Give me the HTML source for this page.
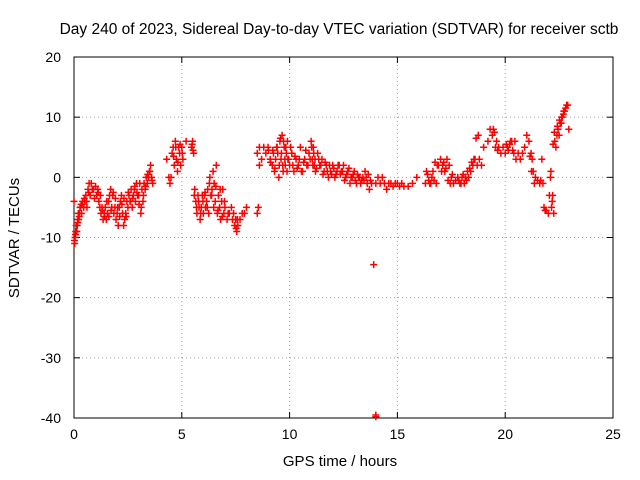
<!DOCTYPE html>
<html><head><meta charset="utf-8"><style>
body{margin:0;background:#fff}
svg{display:block}
text{font-family:"Liberation Sans",sans-serif;font-size:14px;fill:#000}
</style></head><body>
<svg id="chart" width="640" height="480" viewBox="0 0 640 480">
<text x="339" y="34" text-anchor="middle" style="font-size:15.5px">Day 240 of 2023, Sidereal Day-to-day VTEC variation (SDTVAR) for receiver sctb</text>
<g id="grid"></g>
<g id="axes"></g>
<g id="marks"></g>
<text x="340" y="466" text-anchor="middle" style="font-size:15px">GPS time / hours</text>
<text transform="translate(19,238) rotate(-90)" text-anchor="middle" style="font-size:15px">SDTVAR / TECUs</text>
</svg>
<script>
const xTicks=[0,5,10,15,20,25];
const yTicks=[20,10,0,-10,-20,-30,-40];
const times=[0,0.03,0.05,0.08,0.1,0.12,0.15,0.18,0.2,0.22,0.25,0.28,0.3,0.33,0.35,0.4,0.45,0.5,0.55,0.6,0.65,0.7,0.75,0.8,0.9,1.0,1.05,1.1,1.15,1.2,1.25,1.3,1.35,1.4,1.45,1.5,1.55,1.6,1.65,1.7,1.75,1.8,1.85,1.9,1.95,2.0,2.05,2.1,2.15,2.2,2.25,2.3,2.35,2.4,2.45,2.5,2.55,2.6,2.65,2.7,2.75,2.8,2.85,2.9,2.95,3.0,3.05,3.1,3.15,3.2,3.25,3.3,3.35,3.4,3.45,3.5,3.55,3.6,3.65,
4.3,4.4,4.45,4.5,4.55,4.6,4.65,4.7,4.75,4.8,4.85,4.9,4.95,5.0,5.05,5.2,5.45,5.5,5.55,5.6,5.65,5.7,5.75,5.8,5.85,5.9,5.95,6.0,6.05,6.1,6.15,6.2,6.25,6.3,6.35,6.4,6.45,6.5,6.55,6.6,6.65,6.7,6.75,6.8,6.85,6.9,6.95,7.0,7.1,7.2,7.3,7.4,7.45,7.5,7.55,7.6,7.7,7.8,7.9,8.0,8.5,8.55,8.6,
8.5,8.6,8.7,8.8,8.9,9.0,9.1,9.2,9.25,9.3,9.35,9.4,9.45,9.5,9.55,9.6,9.65,9.7,9.75,9.8,9.85,9.9,9.95,10.0,10.1,10.2,10.3,10.4,10.5,10.6,10.7,10.8,10.9,11.0,11.05,11.1,11.15,11.2,11.3,11.4,11.5,11.6,11.7,11.8,11.9,12.0,12.1,12.2,12.3,12.4,12.5,12.6,12.7,12.8,12.9,13.0,13.1,13.2,13.3,13.4,13.5,13.6,13.7,13.8,13.9,14.0,14.0,14.0,14.1,14.2,14.3,14.4,14.5,14.6,14.7,14.8,14.9,15.0,15.1,15.2,15.3,15.5,15.7,15.9,
16.3,16.4,16.5,16.6,16.7,16.8,16.9,17.0,17.1,17.2,17.3,17.4,17.5,17.6,17.7,17.8,17.9,18.0,18.1,18.2,18.3,18.4,18.5,18.6,18.7,18.8,18.9,19.0,19.2,19.3,19.4,19.5,19.6,19.7,19.8,19.9,20.0,20.1,20.2,20.3,20.4,20.5,20.6,20.7,20.8,20.9,21.0,21.1,21.2,21.25,21.3,21.4,21.5,21.6,21.7,21.75,21.8,21.9,22.0,22.05,22.1,22.15,22.2,22.25,22.3,22.35,22.4,22.45,22.5,22.55,22.6,22.65,22.7,22.75,22.8,22.85,22.9,22.95,22.9];
const values=[-4,-11,-10,-9,-8,-9,-8,-7,-6,-7,-6,-5,-5,-4.5,-6,-4,-5,-4,-3,-5,-2,-1,-3,-1,-2,-1.5,-3,-2,-4,-5,-6,-5,-7,-6,-5,-7,-6,-4,-3,-2,-5,-3,-6,-5,-7,-6,-8,-5,-4,-3,-6,-8,-7,-6,-4,-5,-3,-4,-2,-5,-3,-2,-4,-1,-3,-3,-1,-6,-2,-4,-1,-2,0,-1,0,1,2,0,-1,
3,0,-1,-0,4,5,2,6,3,1,5,4,2,5,3,6,5,6,4,-2,-4,-6,-3,-5,-7,-5,-3,-6,-3,-5,-4,-2,-6,0,-3,-2,1,-1,-4,2,-6,-3,-5,-7,-4,-2,-6,-5,-7,-6,-5,-6,-8,-7,-9,-8,-7,-6,-6,-5,-6,-5,
2,4,5,3,5,4,5,3,2,4,1,3,5,4,0,6,3,7,1,5,2,4,6,3,2,4,1,3,2,5,1,3,2,4,6,3,5,2,1,4,2,3,1,2,0,1,2,0,1,2,1,2,0,1,-1,0,1,-1,0,-1,0,1,-1,-2,-1,-14.5,-39.5,-39.8,-1,0,-1,0,-1,-2,-1,-1,-1.5,-1,-1,-1.5,-1,-1.5,-1.5,-1,
0,-1,0.5,-1,0,-0.5,-1,2,3,2,1,3,2,0,-1,-0.5,0,-1,0,-1,-0.5,0,1,2,3,2,3,2,5,6,8,7,7.5,6,5,4,5,4,5,5.5,6,4,3,4,3,4,5,7,6,4,3,1,0,-0.5,-1,3,-1,-5,-5.5,-6,-3,0,-5,-3,-6,6,5,7,8,7,9,9,10,10.5,11,11.5,12,12,8];
const times2=[0.02,0.07,0.13,0.17,0.24,0.38,0.48,0.58,0.68,0.85,0.95,1.12,1.22,1.32,1.42,1.52,1.62,1.72,1.82,1.92,2.02,2.12,2.22,2.32,2.42,2.52,2.62,2.72,2.82,2.92,3.02,3.12,3.22,3.32,3.42,3.52,3.62,
4.62,4.72,4.82,4.92,5.02,5.48,5.52,5.58,5.68,5.78,5.88,5.98,6.08,6.18,6.28,6.38,6.48,6.58,6.68,6.78,6.88,6.98,7.15,7.35,7.52,7.58,
9.02,9.12,9.22,9.32,9.42,9.52,9.58,9.62,9.68,9.72,9.78,9.82,9.88,9.92,10.05,10.15,10.25,10.35,10.45,10.55,10.65,10.75,10.85,10.95,11.02,11.08,11.12,11.18,11.25,11.35,11.45,11.55,11.65,11.75,11.85,11.95,12.05,12.15,12.25,12.35,12.45,12.55,12.65,12.75,12.85,12.95,13.05,13.15,13.25,13.35,13.45,13.55,13.65,13.75,
16.35,16.45,16.55,16.65,16.75,16.85,17.05,17.15,17.25,17.35,17.45,17.55,17.85,17.95,18.05,18.15,18.25,18.35,18.45,18.55,18.65,18.75,19.45,19.55,19.65,20.05,20.15,20.25,20.35,20.45,21.15,21.22,21.35,21.65,21.85,22.12,22.18,22.22,22.28,22.42,22.52,22.62,22.72,22.82,22.88];
const values2=[-10.5,-9.5,-9,-7.5,-6.5,-4.5,-3.5,-4,-2.5,-2,-3.5,-2.5,-3,-5.5,-6.5,-4,-6.5,-5.5,-2.5,-3.5,-5,-6.5,-4.5,-3.5,-6.5,-2.5,-4,-3.5,-1.5,-2.5,-4.5,-5,-3,-1.5,0.5,1,-0.5,
3.5,5,2.5,5.5,4,5.5,4.5,-3,-5,-4,-6,-4,-2.5,-5,-1,-3,-5,-1.5,-5.5,-2,-6.5,-4,-6,-7,-8.5,-7,
4.5,2.5,4.5,1.5,5,2,6.5,4,2,6,3,5,1,3,5,2,3.5,1.5,3,1,2.5,4.5,2,3,5,2,4,3,1.5,3,2,0.5,2.5,1,2,0.5,1.5,0.5,2,0.5,1,-0.5,0.5,1.5,0,0.5,-0.5,0.5,0,-0.5,-0.5,0,
0.5,-0.5,1,-0.5,-1,1,2.5,2,1,2.5,1.5,-0.5,-1,0.5,-0.5,-1,0.5,0,1,1.5,2.5,3,6.5,7,8,5,4.5,5.5,4.5,6,4.5,6,3.5,1,-1,-0.5,-5.5,1,-4,5.5,7.5,8.5,9.5,10,11];
const X0=74,X1=613,Y0=418,Y1=57;
const sx=v=>X0+(v-0)/(25-0)*(X1-X0);
const sy=v=>Y0-(v+40)/60*(Y0-Y1);
const ns="http://www.w3.org/2000/svg";
const grid=document.getElementById('grid'),axes=document.getElementById('axes'),marks=document.getElementById('marks');
function mk(tag,attrs,parent){const e=document.createElementNS(ns,tag);for(const k in attrs)e.setAttribute(k,attrs[k]);parent.appendChild(e);return e;}
xTicks.forEach(t=>{const x=sx(t);
 if(t>0&&t<25){const l=mk('line',{x1:x,x2:x,y1:Y0,y2:Y1,stroke:'#a0a0a0','stroke-dasharray':'1,3'},grid);
 
 }
 mk('line',{x1:x,x2:x,y1:Y0,y2:Y0-6,stroke:'#000'},axes);
 mk('line',{x1:x,x2:x,y1:Y1,y2:Y1+6,stroke:'#000'},axes);
 const tx=mk('text',{x:x,y:Y0+21,'text-anchor':'middle'},axes);tx.textContent=t;
 
 
});
yTicks.forEach(t=>{const y=sy(t);
 if(t>-40&&t<20){const l=mk('line',{x1:X0,x2:X1,y1:y,y2:y,stroke:'#a0a0a0','stroke-dasharray':'1,3'},grid);
 
 }
 mk('line',{x1:X0,x2:X0+6,y1:y,y2:y,stroke:'#000'},axes);
 mk('line',{x1:X1,x2:X1-6,y1:y,y2:y,stroke:'#000'},axes);
 const tx=mk('text',{x:X0-13,y:y+5,'text-anchor':'end'},axes);tx.textContent=t;
 
 
});
const fr=mk('rect',{x:X0,y:Y1,width:X1-X0,height:Y0-Y1,fill:'none',stroke:'#000'},axes);


function drawSet(ts,vs){
 const n=Math.min(ts.length,vs.length);
 for(let i=0;i<n;i++){const x=sx(ts[i]),y=sy(vs[i]);
  const p=mk('path',{d:`M${x-3.5},${y}H${x+3.5}M${x},${y-3.5}V${y+3.5}`,stroke:'#f00','stroke-width':1.5,fill:'none'},marks);
  
  
 }
}
drawSet(times,values);
drawSet(times2,values2);
</script>
</body></html>
